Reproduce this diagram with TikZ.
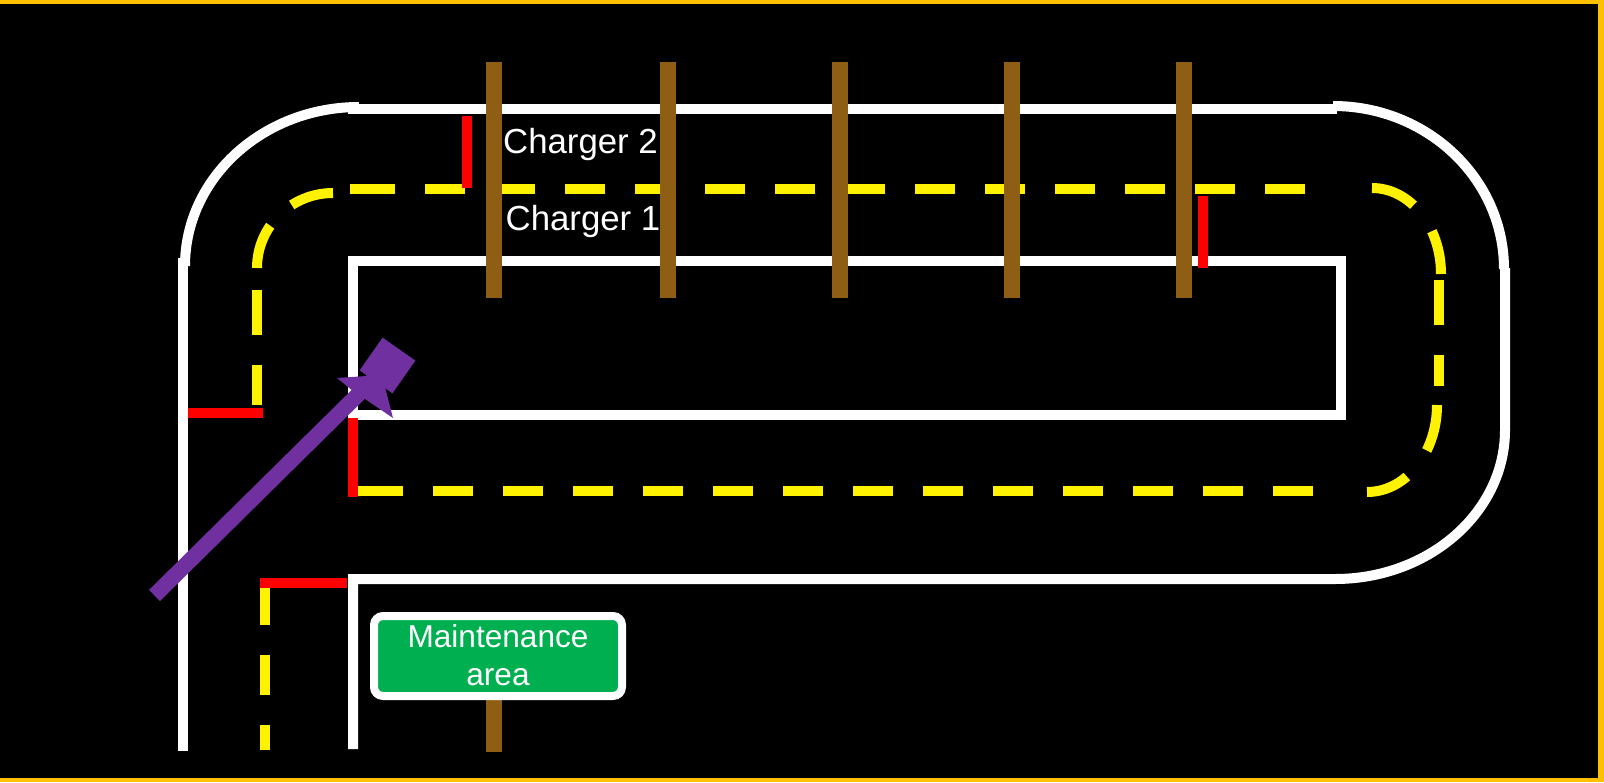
\documentclass[tikz,border=0pt]{standalone}
\usepackage{fontspec}
\setmainfont{Liberation Sans}
\usetikzlibrary{positioning,calc}
\definecolor{GoldFrame}{RGB}{255,192,0}
\definecolor{PoleBrown}{RGB}{143,94,21}
\definecolor{CartPurple}{RGB}{112,48,160}
\definecolor{SignGreen}{RGB}{0,176,80}
\tikzset{
    wall/.style={draw=white, line width=10pt, line join=miter},
    lane/.style={draw=yellow, line width=10pt},
    lanedash/.style={lane, dash pattern=on 40pt off 30pt},
    stopline/.style={draw=red, line width=10pt},
    pole/.style={draw=PoleBrown, line width=16pt},
    chargerlabel/.style={text=white, anchor=base, inner sep=0pt, font=\fontsize{34.8}{38}\selectfont},
    signlabel/.style={text=white, anchor=base, inner sep=0pt, font=\fontsize{31.6}{38}\selectfont}
}

\begin{document}
\begin{tikzpicture}[x=1pt, y=-1pt]
    \useasboundingbox (0,0) rectangle (1604,782);

    % --- NỀN VÀ KHUNG ---
    \fill[black] (0,0) rectangle (1604,782);
    \fill[GoldFrame] (0,0) rectangle (1604,4);
    \fill[GoldFrame] (1598,0) rectangle (1604,782);
    \fill[GoldFrame] (0,778) rectangle (1604,782);

    % --- TƯỜNG TRẮNG ---
    \draw[wall] (183,751) -- (183,258);
    \draw[wall] (185,266) arc[start angle=180, end angle=270, x radius=174, y radius=159];
    \draw[wall] (348,109) -- (1337,109);
    \draw[wall] (1333,106) arc[start angle=270, end angle=360, x radius=171, y radius=163];
    \draw[wall] (353,749) -- (353,579) -- (1335,579)
        arc[start angle=90, end angle=0, x radius=170, y radius=149] -- (1505,268);
    \draw[wall] (353,261) rectangle (1341,415);

    % --- VẠCH VÀNG ---
    \draw[lane, dash pattern=on 45pt off 30pt on 44pt off 30pt] (257,268)
        arc[start angle=180, end angle=270, x radius=76, y radius=75];
    \draw[lane] (257,290) -- (257,335);
    \draw[lane] (257,365) -- (257,405);
    \draw[lane] (350,189) -- (395,189);
    \draw[lanedash] (425,189) -- (1305,189);
    \draw[lane, dash pattern=on 46pt off 32pt on 46pt off 30pt] (1372,188)
        arc[start angle=270, end angle=360, x radius=69, y radius=86];
    \draw[lane] (1439,280) -- (1439,325);
    \draw[lane] (1439,355) -- (1439,386);
    \draw[lane, dash pattern=on 47pt off 33pt on 45pt off 30pt] (1437,405)
        arc[start angle=0, end angle=90, x radius=70, y radius=87];
    \draw[lane] (358,491) -- (403,491);
    \draw[lanedash] (433,491) -- (1313,491);
    \draw[lanedash] (265,585) -- (265,750);

    % --- VẠCH ĐỎ ---
    \draw[stopline] (467,116) -- (467,188);
    \draw[stopline] (1203,196) -- (1203,268);
    \draw[stopline] (188,413) -- (263,413);
    \draw[stopline] (353,418) -- (353,497);
    \draw[stopline] (260,583) -- (347,583);

    % --- CỘT SẠC ---
    \foreach \x in {494,668,840,1012,1184} {
        \draw[pole] (\x,62) -- (\x,298);
    }
    \node[chargerlabel] (charger2) at (580.5,153) {Charger 2};
    \node[chargerlabel] (charger1) at (583,230) {Charger 1};

    % --- BIỂN BẢO TRÌ ---
    \draw[pole] (494,696) -- (494,752);
    \node[
        draw=white,
        fill=SignGreen,
        line width=8pt,
        rounded corners=9pt,
        minimum width=248pt,
        minimum height=80pt,
        inner sep=0pt,
        outer sep=0pt,
        anchor=north west
    ] (sign) at (374,616) {};
    \node[signlabel] (signtop) at (498,647) {Maintenance};
    \node[signlabel] (signbot) at (498,685) {area};

    % --- MŨI TÊN TÍM ---
    \coordinate (tail) at (154.5,595.5);
    \node[fill=CartPurple, minimum size=40pt, inner sep=0pt, outer sep=0pt, rotate=-35] (cart) at (387.5,365.5) {};
    \draw[CartPurple, line width=15.6pt] (tail) -- (cart.center);
    \fill[CartPurple] (337,378) -- (367,376) -- (385,387) -- (393,418) -- (365,399) -- (353,391) -- cycle;

\end{tikzpicture}
\end{document}
